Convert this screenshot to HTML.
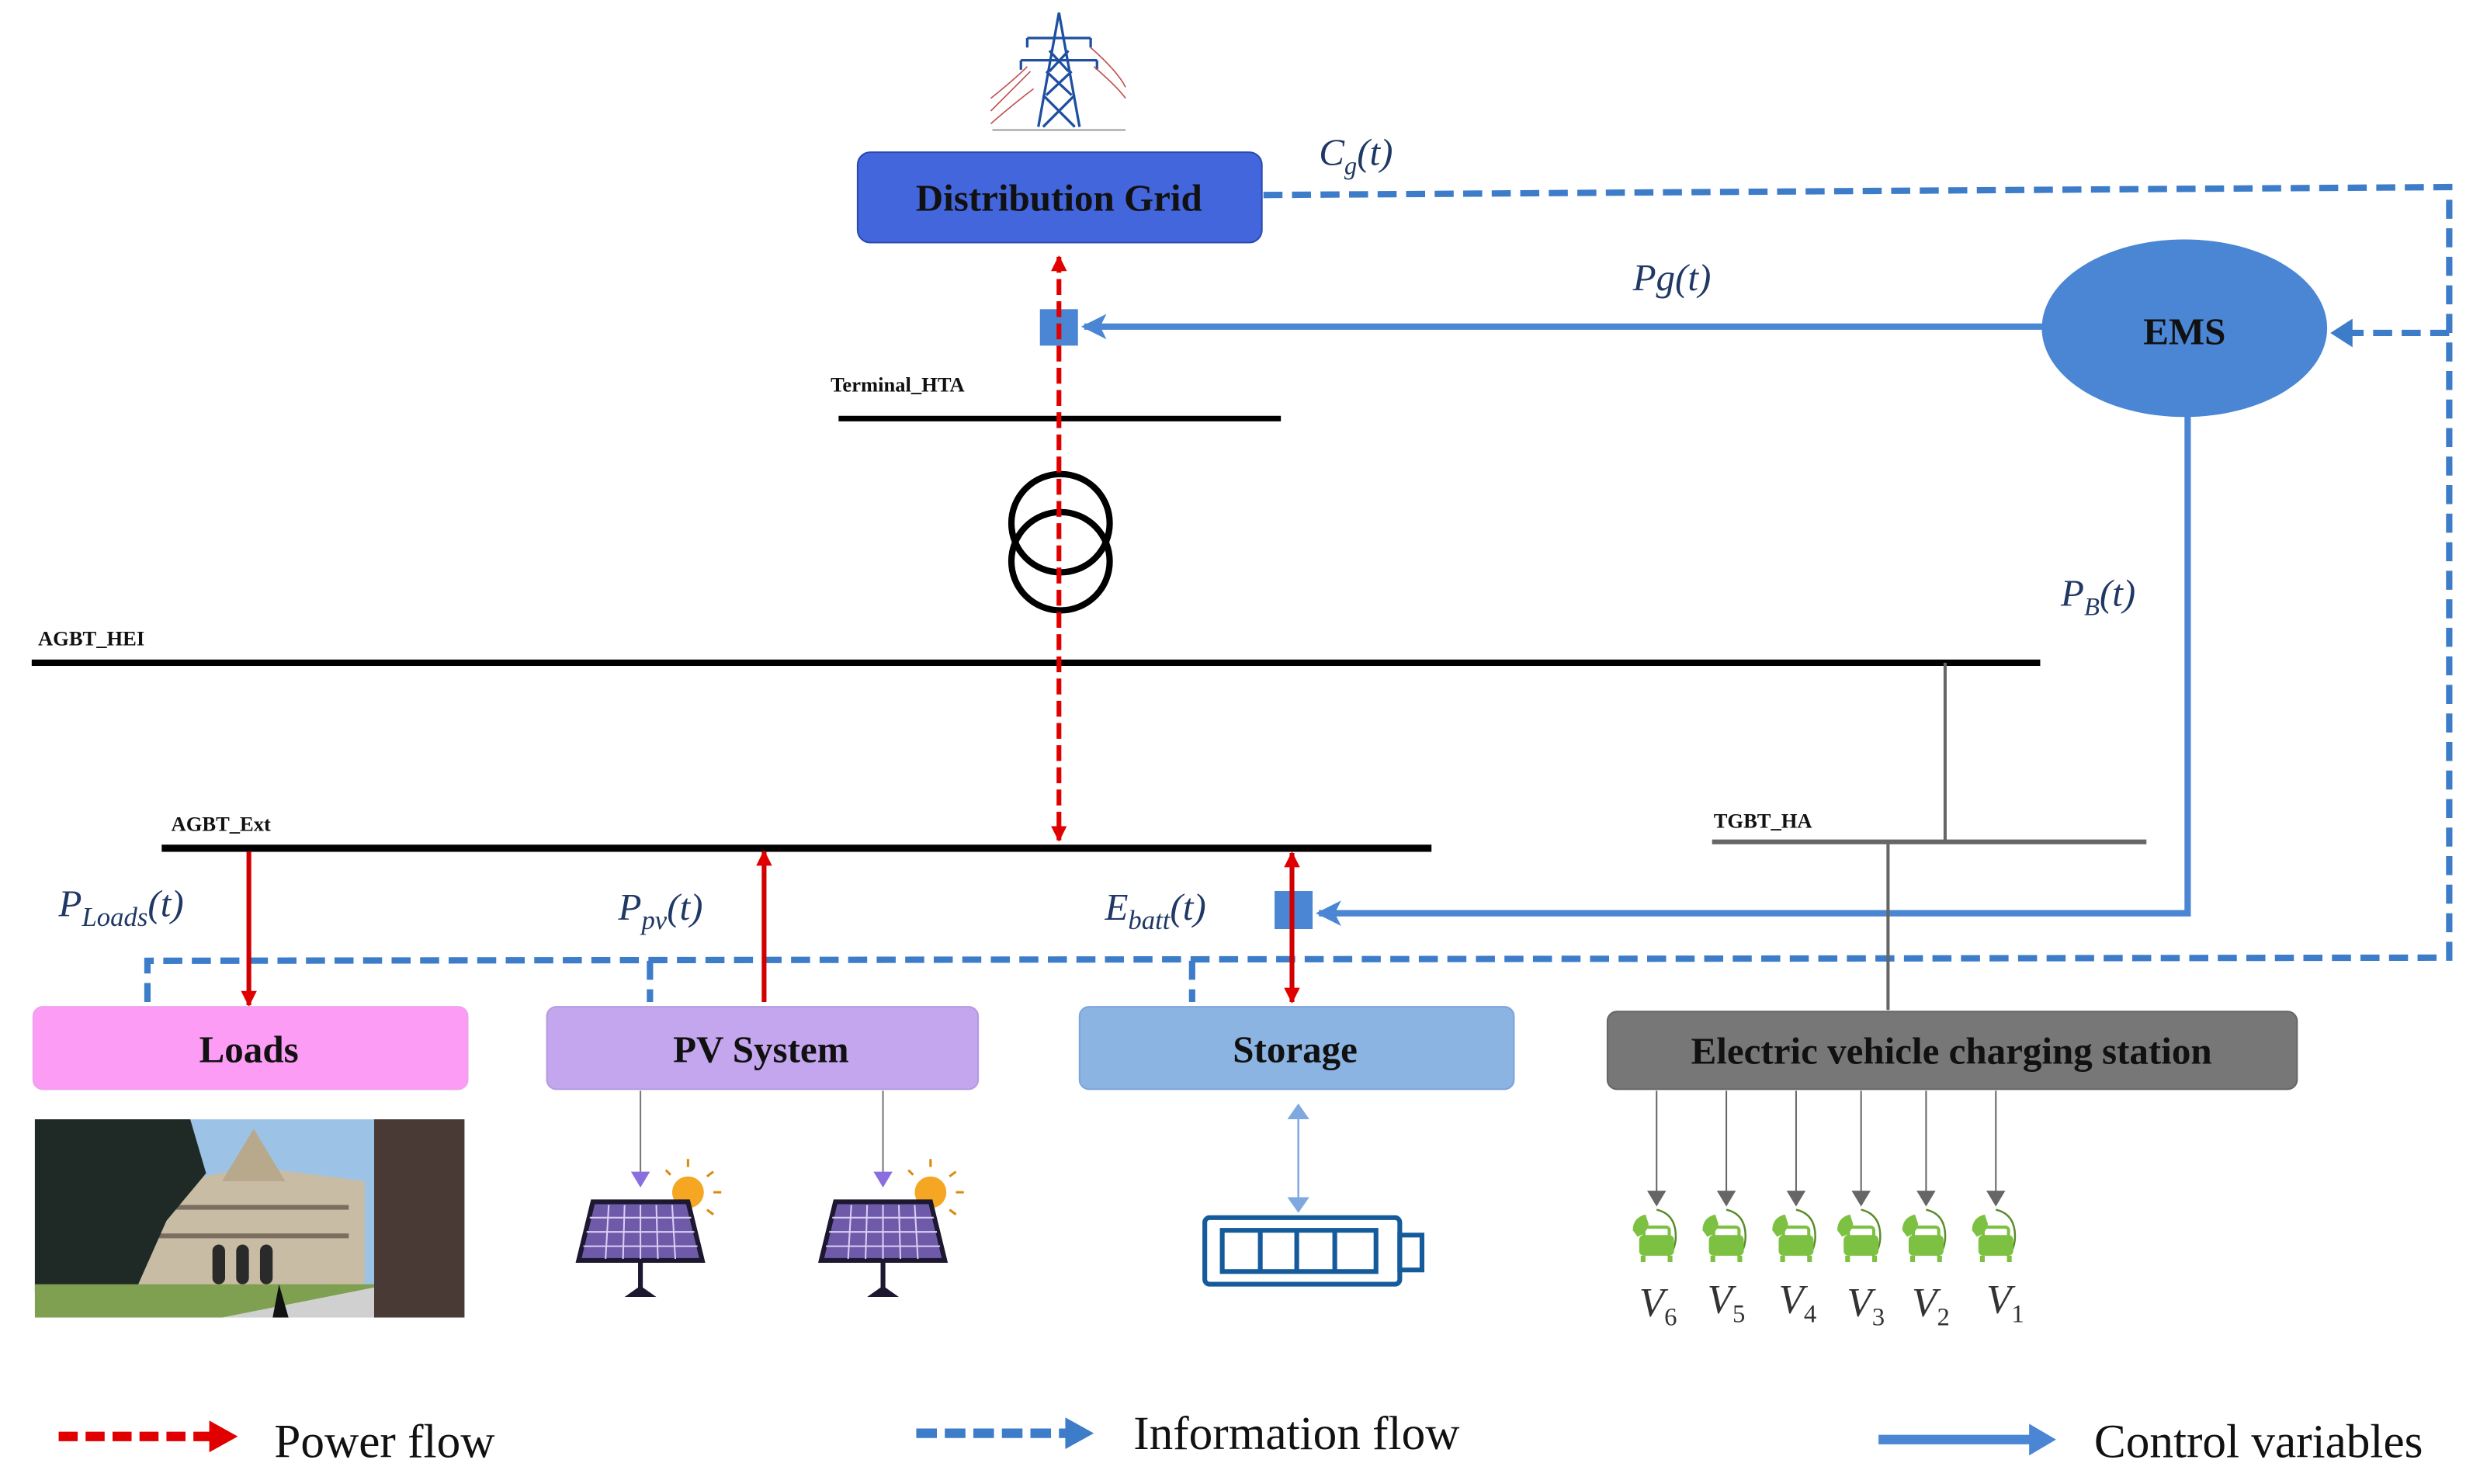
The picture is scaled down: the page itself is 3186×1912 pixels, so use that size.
<!DOCTYPE html>
<html><head><meta charset="utf-8"><style>
html,body{margin:0;padding:0;background:#fff;}
svg{display:block;}
text{font-family:"Liberation Serif",serif;}
.m{font-style:italic;fill:#1f3864;font-size:24px;}
.lab{font-weight:bold;font-size:13px;fill:#111;}
.box{font-weight:bold;font-size:24px;fill:#111;text-anchor:middle;}
</style></head><body>
<svg width="3186" height="1912" viewBox="0 0 1560 936" preserveAspectRatio="none" xmlns="http://www.w3.org/2000/svg">
<defs>
<marker id="arS" markerWidth="10" markerHeight="10" refX="9" refY="5" orient="auto-start-reverse" markerUnits="userSpaceOnUse"><path d="M0,0 L10,5 L0,10z" fill="#e00000"/></marker>
<marker id="ab" markerWidth="16" markerHeight="16" refX="14" refY="8" orient="auto" markerUnits="userSpaceOnUse"><path d="M0,0 L16,8 L0,16 L4,8z" fill="#4a86d4"/></marker>
<marker id="ag" markerWidth="10" markerHeight="12" refX="9" refY="6" orient="auto" markerUnits="userSpaceOnUse"><path d="M0,0 L10,6 L0,12z" fill="#666"/></marker>
<marker id="ap" markerWidth="10" markerHeight="12" refX="9" refY="6" orient="auto" markerUnits="userSpaceOnUse"><path d="M0,0 L10,6 L0,12z" fill="#8a6ee0"/></marker>
<marker id="al" markerWidth="10" markerHeight="14" refX="9" refY="7" orient="auto-start-reverse" markerUnits="userSpaceOnUse"><path d="M0,0 L10,7 L0,14z" fill="#7fa8e0"/></marker>
</defs>

<!-- tower -->
<g stroke="#1f4fa0" stroke-width="1.6" fill="none">
<path d="M668,8 L655,80 M668,8 L681,80 M658,60 L678,80 M678,60 L658,80 M660,45 L676,60 M676,45 L660,60 M662,32 L674,45 M674,32 L662,45"/>
<path d="M648,24 L688,24 M644,38 L692,38 M648,24 v6 M688,24 v6 M644,38 v6 M692,38 v6"/>
</g>
<g stroke="#c05050" stroke-width="0.8" fill="none"><path d="M625,70 Q640,55 650,45 M625,62 Q640,50 648,42 M688,30 Q705,45 710,55 M690,42 Q705,55 710,62 M625,78 Q640,65 652,56"/></g>
<line x1="626" y1="82" x2="710" y2="82" stroke="#999" stroke-width="1"/>

<!-- Distribution Grid -->
<rect x="541" y="96" width="255" height="57" rx="8" fill="#4466dd" stroke="#2a4ab0" stroke-width="1"/>
<text x="668" y="133" class="box">Distribution Grid</text>
<text x="832" y="104" class="m">C<tspan font-size="16" dy="6">g</tspan><tspan dy="-6">(t)</tspan></text>

<!-- info dashed -->
<g stroke="#3d7cc9" stroke-width="4" fill="none" stroke-dasharray="12,6">
<path d="M797,123 L1545,118 L1545,604 L93,606 L93,632"/>
<path d="M1545,210 L1478,210"/>
<path d="M410,606 L410,632 M752,606 L752,632"/>
</g>
<path d="M1470,210 l14,-9 v18z" fill="#3d7cc9"/>

<!-- EMS -->
<ellipse cx="1378" cy="207" rx="90" ry="56" fill="#4a86d4"/>
<text x="1378" y="217" class="box" font-size="25">EMS</text>
<text x="1030" y="183" class="m">Pg(t)</text>
<line x1="1290" y1="206" x2="684" y2="206" stroke="#4a86d4" stroke-width="4" marker-end="url(#ab)"/>
<rect x="656" y="195" width="24" height="23" fill="#4a86d4"/>

<!-- PB -->
<text x="1300" y="382" class="m">P<tspan font-size="16" dy="6">B</tspan><tspan dy="-6">(t)</tspan></text>
<path d="M1380,262 L1380,576 L832,576" fill="none" stroke="#4a86d4" stroke-width="4" marker-end="url(#ab)"/>
<rect x="804" y="562" width="24" height="24" fill="#4a86d4"/>

<!-- buses -->
<text x="524" y="247" class="lab">Terminal_HTA</text>
<line x1="529" y1="264" x2="808" y2="264" stroke="#000" stroke-width="3.5"/>
<circle cx="669" cy="330" r="31" fill="none" stroke="#000" stroke-width="4"/>
<circle cx="669" cy="354" r="31" fill="none" stroke="#000" stroke-width="4"/>
<text x="24" y="407" class="lab">AGBT_HEI</text>
<line x1="20" y1="418" x2="1287" y2="418" stroke="#000" stroke-width="4"/>
<line x1="1227" y1="418" x2="1227" y2="531" stroke="#666" stroke-width="2"/>
<text x="1081" y="522" class="lab" fill="#444" font-weight="normal">TGBT_HA</text>
<line x1="1080" y1="531" x2="1354" y2="531" stroke="#666" stroke-width="3"/>
<line x1="1191" y1="531" x2="1191" y2="637" stroke="#666" stroke-width="2"/>
<text x="108" y="524" class="lab">AGBT_Ext</text>
<line x1="102" y1="535" x2="903" y2="535" stroke="#000" stroke-width="4.5"/>

<!-- red power lines -->
<line x1="668" y1="162" x2="668" y2="530" stroke="#e00000" stroke-width="3" stroke-dasharray="10,4" marker-start="url(#arS)" marker-end="url(#arS)"/>
<line x1="157" y1="537" x2="157" y2="634" stroke="#d00000" stroke-width="3" marker-end="url(#arS)"/>
<line x1="482" y1="632" x2="482" y2="537" stroke="#d00000" stroke-width="3" marker-end="url(#arS)"/>
<line x1="815" y1="538" x2="815" y2="632" stroke="#d00000" stroke-width="3" marker-start="url(#arS)" marker-end="url(#arS)"/>

<text x="37" y="578" class="m">P<tspan font-size="17" dy="6">Loads</tspan><tspan dy="-6">(t)</tspan></text>
<text x="390" y="580" class="m">P<tspan font-size="17" dy="6">pv</tspan><tspan dy="-6">(t)</tspan></text>
<text x="697" y="580" class="m">E<tspan font-size="17" dy="6">batt</tspan><tspan dy="-6">(t)</tspan></text>

<!-- boxes -->
<rect x="21" y="635" width="274" height="52" rx="6" fill="#fc9cf5" stroke="#f0a0ee"/>
<text x="157" y="670" class="box">Loads</text>
<rect x="345" y="635" width="272" height="52" rx="6" fill="#c3a6ee" stroke="#b49ae0"/>
<text x="480" y="670" class="box">PV  System</text>
<rect x="681" y="635" width="274" height="52" rx="6" fill="#8cb4e2" stroke="#7aa4dc"/>
<text x="817" y="670" class="box">Storage</text>
<rect x="1014" y="638" width="435" height="49" rx="6" fill="#777" stroke="#666"/>
<text x="1231" y="671" class="box" fill="#1a1a1a">Electric vehicle charging station</text>

<!-- photo -->
<rect x="22" y="706" width="271" height="125" fill="#9cc3e6"/>
<path d="M85,750 L150,738 L160,720 L175,738 L230,745 L230,815 L85,815z" fill="#c9bca4"/>
<path d="M140,745 L160,712 L180,745z" fill="#b8a98c"/>
<g fill="#7a6e60"><rect x="100" y="760" width="120" height="3"/><rect x="100" y="778" width="120" height="3"/></g>
<path d="M22,706 L120,706 L130,740 L105,770 L85,815 L22,815z" fill="#1f2a26"/>
<rect x="236" y="706" width="57" height="125" fill="#4a3a35"/>
<g fill="#2a2a2a"><rect x="134" y="785" width="8" height="25" rx="4"/><rect x="149" y="785" width="8" height="25" rx="4"/><rect x="164" y="785" width="8" height="25" rx="4"/></g>
<rect x="22" y="810" width="214" height="21" fill="#7fa050"/>
<path d="M140,831 L236,812 L236,831z" fill="#d0d0d0"/>
<path d="M172,831 L176,810 L182,831z" fill="#111"/>

<!-- PV panels -->
<g id="pv">
<line x1="404" y1="688" x2="404" y2="748" stroke="#777" stroke-width="1" marker-end="url(#ap)"/>
<circle cx="434" cy="752" r="10" fill="#f5a623"/>
<g stroke="#d98a10" stroke-width="1.5"><path d="M434,736v-5M446,742l4,-3M450,752h5M446,763l4,3M423,741l-3,-3"/></g>
<path d="M374,758 L434,758 L443,795 L365,795z" fill="#6e5aa8" stroke="#1d1830" stroke-width="3"/>
<g stroke="#d8cff5" stroke-width="1"><path d="M372,768h64M370,777h68M368,786h72M384,760l-2,34M394,760l-1,34M404,760v34M414,760l1,34M424,760l2,34"/></g>
<line x1="404" y1="796" x2="404" y2="812" stroke="#1d1830" stroke-width="3"/>
<path d="M394,818 L404,811 L414,818z" fill="#1d1830"/>
</g>
<use href="#pv" transform="translate(153,0)"/>

<!-- battery -->
<line x1="819" y1="697" x2="819" y2="764" stroke="#7fa8e0" stroke-width="1.2" marker-start="url(#al)" marker-end="url(#al)"/>
<rect x="760" y="768" width="123" height="42" rx="3" fill="none" stroke="#155b9c" stroke-width="3"/>
<rect x="883" y="779" width="14" height="22" fill="none" stroke="#155b9c" stroke-width="3"/>
<rect x="771" y="776" width="97" height="26" fill="none" stroke="#155b9c" stroke-width="3"/>
<path d="M795,776v26M818,776v26M842,776v26" stroke="#155b9c" stroke-width="3"/>

<!-- EV -->
<g id="ev">
<line x1="1045" y1="688" x2="1045" y2="760" stroke="#666" stroke-width="1" marker-end="url(#ag)"/>
<path d="M1045,763 Q1058,766 1057,782 Q1056,790 1052,792" fill="none" stroke="#5a8c2a" stroke-width="1.2"/>
<path d="M1038,766 q-8,2 -8,10 l3,4 q6,-2 7,-8z" fill="#7cc142"/>
<rect x="1034" y="779" width="22" height="13" rx="3" fill="#7cc142"/>
<rect x="1037" y="774" width="16" height="7" rx="2" fill="none" stroke="#7cc142" stroke-width="2"/>
<rect x="1035" y="792" width="3" height="4" fill="#7cc142"/><rect x="1052" y="792" width="3" height="4" fill="#7cc142"/>
</g>
<use href="#ev" transform="translate(44,0)"/>
<use href="#ev" transform="translate(88,0)"/>
<use href="#ev" transform="translate(129,0)"/>
<use href="#ev" transform="translate(170,0)"/>
<use href="#ev" transform="translate(214,0)"/>
<g font-size="26" font-style="italic" fill="#333">
<text x="1034" y="830">V<tspan font-size="16" font-style="normal" dy="6">6</tspan></text>
<text x="1077" y="828">V<tspan font-size="16" font-style="normal" dy="6">5</tspan></text>
<text x="1122" y="828">V<tspan font-size="16" font-style="normal" dy="6">4</tspan></text>
<text x="1165" y="830">V<tspan font-size="16" font-style="normal" dy="6">3</tspan></text>
<text x="1206" y="830">V<tspan font-size="16" font-style="normal" dy="6">2</tspan></text>
<text x="1253" y="828">V<tspan font-size="16" font-style="normal" dy="6">1</tspan></text>
</g>

<!-- legend -->
<line x1="37" y1="906" x2="134" y2="906" stroke="#e00000" stroke-width="6" stroke-dasharray="12,5"/>
<path d="M132,896 L150,906 L132,916z" fill="#e00000"/>
<text x="173" y="919" font-size="30" fill="#111">Power flow</text>
<line x1="578" y1="904" x2="674" y2="904" stroke="#3d7cc9" stroke-width="6" stroke-dasharray="13,5"/>
<path d="M672,894 L690,904 L672,914z" fill="#3d7cc9"/>
<text x="715" y="914" font-size="30" fill="#111">Information flow</text>
<line x1="1185" y1="908" x2="1282" y2="908" stroke="#4a86d4" stroke-width="6"/>
<path d="M1280,898 L1297,908 L1280,918z" fill="#4a86d4"/>
<text x="1321" y="919" font-size="30" fill="#111">Control variables</text>
</svg>
</body></html>
